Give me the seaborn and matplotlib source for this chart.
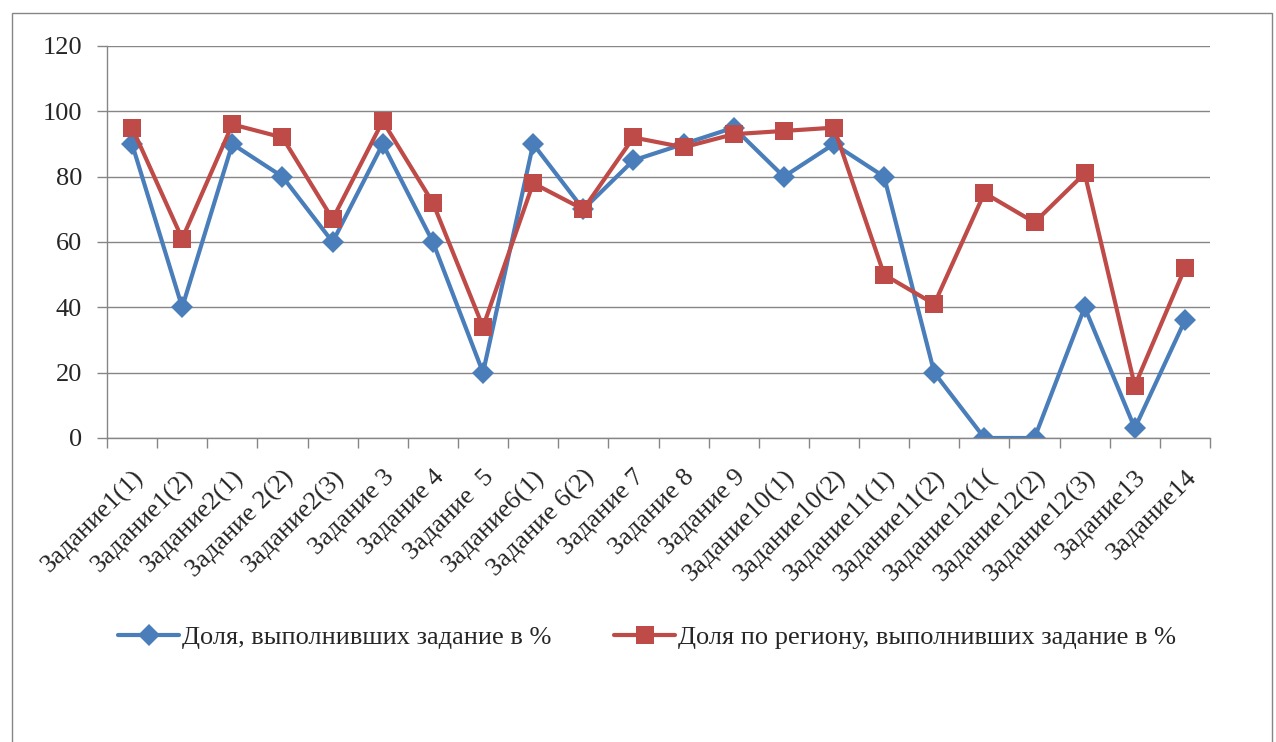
import matplotlib
matplotlib.use("Agg")
import matplotlib.pyplot as plt
import seaborn as sns
import pandas as pd
from matplotlib.patches import Rectangle
from matplotlib.transforms import ScaledTranslation

tasks = ["Задание1(1)", "Задание1(2)", "Задание2(1)", "Задание 2(2)", "Задание2(3)",
         "Задание 3", "Задание 4", "Задание  5", "Задание6(1)", "Задание 6(2)",
         "Задание 7", "Задание 8", "Задание 9", "Задание10(1)", "Задание10(2)",
         "Задание11(1)", "Задание11(2)", "Задание12(1(", "Задание12(2)", "Задание12(3)",
         "Задание13", "Задание14"]
school = [90, 40, 90, 80, 60, 90, 60, 20, 90, 70, 85, 90, 95, 80, 90, 80, 20, 0, 0, 40, 3, 36]
region = [95, 61, 96, 92, 67, 97, 72, 34, 78, 70, 92, 89, 93, 94, 95, 50, 41, 75, 66, 81, 16, 52]

lab_school = "Доля, выполнивших задание в %"
lab_region = "Доля по региону, выполнивших задание в %"

df = pd.DataFrame({"task": tasks, lab_school: school, lab_region: region})
df["pos"] = range(len(tasks))
long = df.melt(id_vars=["task", "pos"], var_name="series", value_name="value")

sns.set_style("white")
plt.rcParams["font.family"] = ["Liberation Serif", "DejaVu Serif"]

fig = plt.figure(figsize=(12.76, 7.42), dpi=100)
ax = fig.add_axes([107 / 1276, 1 - 438 / 742, (1210 - 107) / 1276, (438 - 46) / 742])

colors = {lab_school: "#4A7EBB", lab_region: "#BE4B48"}
sns.lineplot(data=long, x="pos", y="value", hue="series", style="series",
             palette=colors, markers={lab_school: "D", lab_region: "s"},
             dashes=False, linewidth=3.0, markersize=11, markeredgewidth=0,
             sort=False, ax=ax, legend="brief")
# square a touch bigger than the diamond
for line in ax.get_lines():
    if line.get_marker() == "s":
        line.set_markersize(13)

ax.set_xlim(-0.5, len(tasks) - 0.5)
ax.set_ylim(0, 120)
ax.set_yticks(range(0, 121, 20))
ax.yaxis.grid(True, color="#868686", linewidth=1)
ax.set_axisbelow(True)
ax.set_xlabel("")
ax.set_ylabel("")

ax.set_xticks(range(len(tasks)))
ax.set_xticklabels(tasks, rotation=45, ha="right", rotation_mode="anchor", fontsize=19)
offset = ScaledTranslation(-3 / 100, 0, fig.dpi_scale_trans)
for lbl in ax.get_xticklabels():
    lbl.set_transform(lbl.get_transform() + offset)
ax.set_xticks([i - 0.5 for i in range(len(tasks) + 1)], minor=True)
ax.tick_params(axis="x", which="major", length=0, pad=20)
ax.tick_params(axis="x", which="minor", length=7, color="#868686", width=1, direction="out")
ax.tick_params(axis="y", length=7, color="#868686", width=1, direction="out", labelsize=19, pad=11)
ax.xaxis.set_tick_params(which="minor", bottom=True)
ax.yaxis.set_tick_params(left=True)

for s in ["top", "right"]:
    ax.spines[s].set_visible(False)
for s in ["left", "bottom"]:
    ax.spines[s].set_color("#868686")
    ax.spines[s].set_linewidth(1)

h, l = ax.get_legend_handles_labels()
ax.legend_.remove()
for hd in h:
    hd.set_markersize(13 if hd.get_marker() == "s" else 11)
    hd.set_linewidth(3.0)
fig.legend(h, l, loc="center", bbox_to_anchor=(0.507, 1 - 637 / 742), ncol=2,
           frameon=False, fontsize=19, handlelength=2.3, columnspacing=2.4,
           handletextpad=0.1)

fig.patches.append(Rectangle((12 / 1276, -0.01), (1272 - 12) / 1276, 1 - 13 / 742 + 0.01,
                             transform=fig.transFigure, fill=False,
                             edgecolor="#868686", linewidth=1))

fig.savefig("out.png", dpi=100)
